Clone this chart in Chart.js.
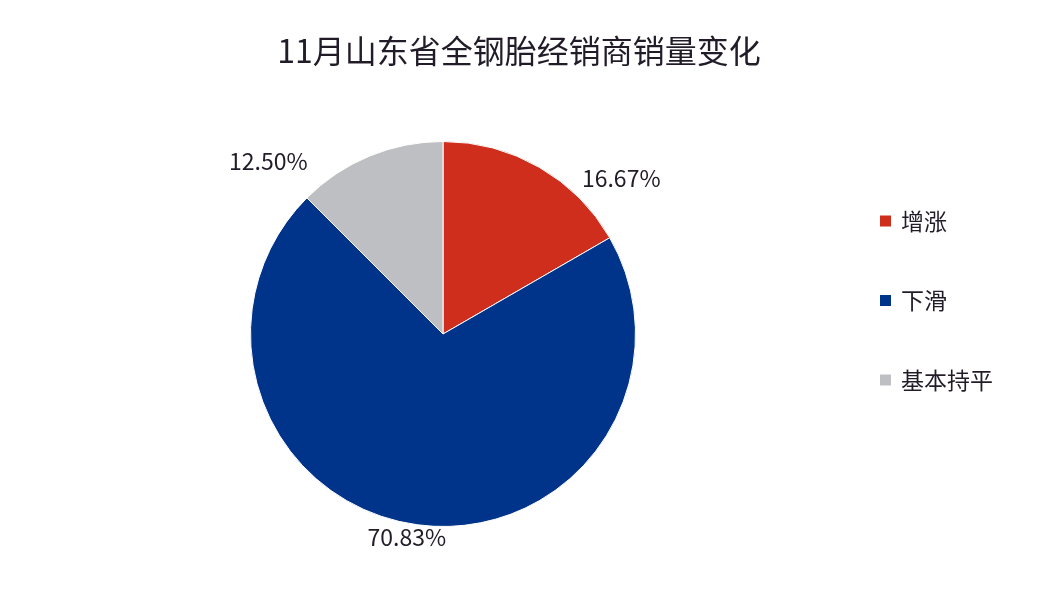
<!DOCTYPE html>
<html>
<head>
<meta charset="utf-8">
<script src="https://cdn.jsdelivr.net/npm/chart.js"></script>
<style>
  html, body { margin: 0; padding: 0; background: #ffffff; }
  #wrap { width: 1044px; height: 590px; }
</style>
</head>
<body>
<div id="wrap"><canvas id="chart"></canvas></div>
<script>
const title = "11月山东省全钢胎经销商销量变化";
const categories = ["增涨", "下滑", "基本持平"];
const shares = [16.67, 70.83, 12.50];
const colors = ["#CF2E1D", "#00338A", "#BEBFC3"];

const FONT = '"Noto Sans CJK SC", "Noto Sans", sans-serif';
const TEXT = "#221c28";

// where each percentage label sits relative to the edge of its slice
const labelOffsets = [[82, 11], [-11, 12], [-101, 5]];

const overlay = {
  id: "overlay",
  afterDraw(chart) {
    const ctx = chart.ctx;
    ctx.save();
    ctx.fillStyle = TEXT;
    ctx.textBaseline = "middle";

    // title
    ctx.font = "32px " + FONT;
    ctx.textAlign = "center";
    ctx.fillText(title, 519, 51);

    // slice labels
    ctx.font = "23px " + FONT;
    const meta = chart.getDatasetMeta(0);
    meta.data.forEach((arc, i) => {
      const mid = (arc.startAngle + arc.endAngle) / 2;
      const ex = arc.x + Math.cos(mid) * arc.outerRadius;
      const ey = arc.y + Math.sin(mid) * arc.outerRadius;
      const [dx, dy] = labelOffsets[i];
      ctx.fillText(shares[i].toFixed(2) + "%", ex + dx, ey + dy);
    });

    // legend
    ctx.textAlign = "left";
    ctx.font = "23px " + FONT;
    categories.forEach((name, i) => {
      const y = 221 + i * 79.5;
      ctx.fillStyle = colors[i];
      ctx.fillRect(880, y - 5.5, 11, 11);
      ctx.fillStyle = TEXT;
      ctx.fillText(name, 901, y);
    });
    ctx.restore();
  }
};

new Chart(document.getElementById("chart"), {
  type: "pie",
  data: {
    labels: categories,
    datasets: [{
      data: shares,
      backgroundColor: colors,
      borderColor: "#ffffff",
      borderWidth: 1
    }]
  },
  options: {
    responsive: true,
    maintainAspectRatio: false,
    animation: false,
    layout: { padding: { left: 250, right: 408, top: 141, bottom: 63 } },
    plugins: {
      legend: { display: false },
      title: { display: false },
      tooltip: { enabled: false }
    }
  },
  plugins: [overlay]
});
</script>
</body>
</html>
